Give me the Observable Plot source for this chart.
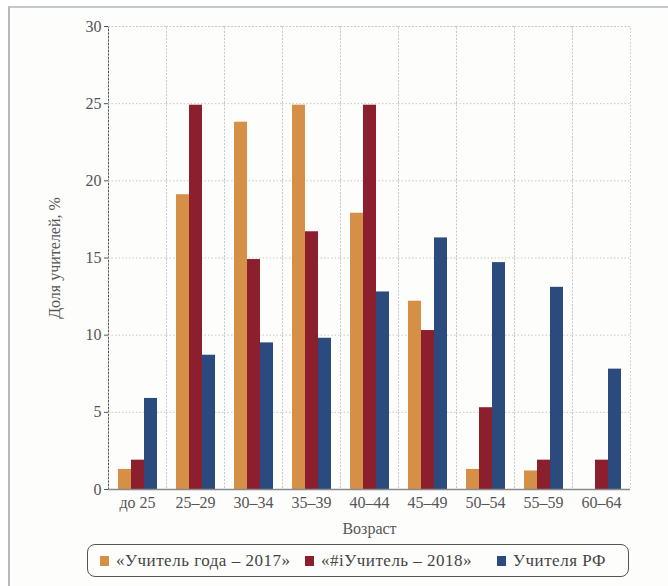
<!DOCTYPE html>
<html>
<head>
<meta charset="utf-8">
<script src="https://cdn.jsdelivr.net/npm/d3@7"></script>
<script src="https://cdn.jsdelivr.net/npm/@observablehq/plot@0.6"></script>
<style>
  html, body { margin: 0; padding: 0; background: #ffffff; }
  #page { position: relative; width: 668px; height: 586px; overflow: hidden; font-family: "Liberation Serif", serif; }
  #frame { position: absolute; left: 8px; top: 6px; width: 700px; height: 600px;
           border-left: 2px solid #b8b8b8; border-top: 2px solid #c4c8c8; background: #fdfdfc; }
  #chart { position: absolute; left: 0; top: 0; }
  #legend { position: absolute; left: 87px; top: 544px; width: 540px; height: 31px;
            border: 1.5px solid #555; border-radius: 8px; box-sizing: content-box;
            font-family: "Liberation Serif", serif; font-size: 17px; letter-spacing: 0.5px; color: #444; }
  .item { position: absolute; top: 0; height: 31px; display: flex; align-items: center; white-space: nowrap; }
  .sw { width: 9px; height: 10px; margin-right: 7px; display: inline-block; }
</style>
</head>
<body>
<div id="page">
  <div id="frame"></div>
  <div id="chart"></div>
  <div id="legend"></div>
</div>
<script>
const ages = ["до 25", "25–29", "30–34", "35–39", "40–44", "45–49", "50–54", "55–59", "60–64"];
const seriesNames = ["«Учитель года – 2017»", "«#iУчитель – 2018»", "Учителя РФ"];
const seriesColors = ["#d68f47", "#8b1f2d", "#2b4a7e"];
const teacherOfYear2017 = [1.3, 19.1, 23.8, 24.9, 17.9, 12.2, 1.3, 1.2, 0];
const iTeacher2018 = [1.9, 24.9, 14.9, 16.7, 24.9, 10.3, 5.3, 1.9, 1.9];
const teachersRF = [5.9, 8.7, 9.5, 9.8, 12.8, 16.3, 14.7, 13.1, 7.8];
const yTicks = [0, 5, 10, 15, 20, 25, 30];
const legendOffsets = [12, 217, 409];

const seriesValues = [teacherOfYear2017, iTeacher2018, teachersRF];
const table = [];
ages.forEach((age, i) => {
  seriesNames.forEach((s, j) => {
    table.push({age, series: s, value: seriesValues[j][i]});
  });
});

const chart = Plot.plot({
  width: 668,
  height: 540,
  marginLeft: 107,
  marginRight: 38,
  marginTop: 26,
  marginBottom: 51,
  style: {fontFamily: "Liberation Serif, serif", fontSize: "16px", color: "#555", background: "transparent"},
  fx: {domain: ages, padding: 0, label: "Возраст", labelAnchor: "center", labelOffset: 44, tickSize: 0, tickPadding: 7},
  x: {domain: seriesNames, axis: null, paddingInner: 0, paddingOuter: 0.73},
  y: {domain: [0, 30], ticks: yTicks, line: true, label: "Доля учителей, %", labelArrow: false, labelAnchor: "center", labelOffset: 60, tickSize: 4, tickPadding: 3},
  color: {domain: seriesNames, range: seriesColors},
  marks: [
    Plot.ruleY(yTicks.filter(d => d > 0), {stroke: "#c8c8c8", strokeDasharray: "1.5,2"}),
    Plot.frame({stroke: "#c8c8c8", strokeDasharray: "1.5,2"}),
    Plot.barY(table, {fx: "age", x: "series", y: "value", fill: "series"}),
    Plot.ruleY([0], {stroke: "#8a8a8a", strokeWidth: 1.3})
  ]
});
// remove any arrow glyph that this Plot version may append to axis labels
chart.querySelectorAll("text").forEach(t => {
  if (/[↑→]/.test(t.textContent)) t.textContent = t.textContent.replace(/\s*[↑→]\s*/g, "");
});
document.getElementById("chart").appendChild(chart);

const legend = document.getElementById("legend");
seriesNames.forEach((s, i) => {
  const item = document.createElement("div");
  item.className = "item";
  item.style.left = legendOffsets[i] + "px";
  const sw = document.createElement("span");
  sw.className = "sw";
  sw.style.background = seriesColors[i];
  item.appendChild(sw);
  item.appendChild(document.createTextNode(s));
  legend.appendChild(item);
});
</script>
</body>
</html>
